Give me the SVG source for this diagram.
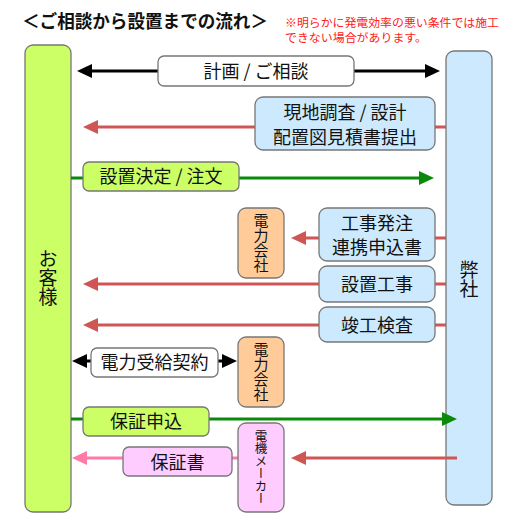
<svg xmlns="http://www.w3.org/2000/svg" width="509" height="528" viewBox="0 0 509 528">
<style>
text{font-family:"Noto Sans CJK JP","Noto Sans CJK SC",sans-serif;fill:#111}
.lbl{font-size:18px;text-anchor:middle}
.vt{writing-mode:vertical-rl;text-anchor:middle}
.note{font-size:11.5px;fill:#ff2020}
.box{stroke:#777;stroke-width:1.3}
.w{fill:#fff}.g{fill:#ccff66}.b{fill:#cce9fd}.o{fill:#ffcc99}.p{fill:#ffccff}
.red{stroke:#d05555;stroke-width:3;fill:none}
.grn{stroke:#0a8a0a;stroke-width:3;fill:none}
.blk{stroke:#000;stroke-width:3;fill:none}
.pnk{stroke:#ff7aa8;stroke-width:3;fill:none}
</style>
<defs>
<marker id="mr" markerUnits="userSpaceOnUse" markerWidth="16" markerHeight="16" refX="5" refY="7" orient="auto"><path d="M0,0L15,7L0,14z" fill="#d05555"/></marker>
<marker id="mg" markerUnits="userSpaceOnUse" markerWidth="16" markerHeight="16" refX="5" refY="7" orient="auto"><path d="M0,0L15,7L0,14z" fill="#0a8a0a"/></marker>
<marker id="mk" markerUnits="userSpaceOnUse" markerWidth="16" markerHeight="16" refX="5" refY="7" orient="auto-start-reverse"><path d="M0,0L15,7L0,14z" fill="#000"/></marker>
<marker id="mp" markerUnits="userSpaceOnUse" markerWidth="16" markerHeight="16" refX="5" refY="7" orient="auto"><path d="M0,0L15,7L0,14z" fill="#ff7aa8"/></marker>
</defs>
<rect width="509" height="528" fill="#fff"/>
<text x="22" y="28" textLength="246" lengthAdjust="spacingAndGlyphs" style="font-size:18px;font-weight:bold">＜ご相談から設置までの流れ＞</text>
<text class="note" x="285" y="27" textLength="214" lengthAdjust="spacingAndGlyphs">※明らかに発電効率の悪い条件では施工</text>
<text class="note" x="285" y="42" textLength="142" lengthAdjust="spacingAndGlyphs">できない場合があります。</text>
<g id="customer"><rect class="box g" x="25" y="45" width="46" height="467" rx="8"/><text class="vt" x="48" y="278" style="font-size:19px">お客様</text></g>
<g id="company"><rect class="box b" x="446" y="51" width="46" height="454" rx="8"/><text class="vt" x="469" y="279" style="font-size:19px">弊社</text></g>
<g id="connectors">
<line class="blk" x1="87" y1="71" x2="430" y2="71" marker-start="url(#mk)" marker-end="url(#mk)"/>
<line class="red" x1="446" y1="127" x2="93" y2="127" marker-end="url(#mr)"/>
<line class="grn" x1="71" y1="178" x2="424" y2="178" marker-end="url(#mg)"/>
<line class="red" x1="446" y1="238" x2="301" y2="238" marker-end="url(#mr)"/>
<line class="red" x1="446" y1="284" x2="93" y2="284" marker-end="url(#mr)"/>
<line class="red" x1="446" y1="325" x2="93" y2="325" marker-end="url(#mr)"/>
<line class="blk" x1="82" y1="361" x2="227" y2="361" marker-start="url(#mk)" marker-end="url(#mk)"/>
<line class="grn" x1="71" y1="419" x2="447" y2="419" marker-end="url(#mg)"/>
<line class="pnk" x1="238" y1="458" x2="82" y2="458" marker-end="url(#mp)"/>
<line class="red" x1="457" y1="458" x2="301" y2="458" marker-end="url(#mr)"/>
</g>
<g id="n-consult"><rect class="box w" x="158" y="56" width="196" height="30" rx="6"/><text class="lbl" x="256" y="77.5">計画 / ご相談</text></g>
<g id="n-survey"><rect class="box b" x="255" y="97" width="180" height="53" rx="8"/><text class="lbl" x="345" y="118.5">現地調査 / 設計</text><text class="lbl" x="345" y="143.5">配置図見積書提出</text></g>
<g id="n-order"><rect class="box g" x="83" y="162" width="156" height="29" rx="6"/><text class="lbl" x="161" y="183">設置決定 / 注文</text></g>
<g id="n-apply"><rect class="box b" x="319" y="208" width="116" height="53" rx="8"/><text class="lbl" x="377" y="229.5">工事発注</text><text class="lbl" x="377" y="253.5">連携申込書</text></g>
<g id="n-power1"><rect class="box o" x="238" y="208" width="46" height="70" rx="8"/><text class="vt" x="261" y="243" style="font-size:15px">電力会社</text></g>
<g id="n-install"><rect class="box b" x="319" y="266" width="116" height="36" rx="8"/><text class="lbl" x="377" y="290.5">設置工事</text></g>
<g id="n-inspect"><rect class="box b" x="319" y="307" width="116" height="35" rx="8"/><text class="lbl" x="377" y="331.5">竣工検査</text></g>
<g id="n-contract"><rect class="box w" x="91" y="348" width="127" height="29" rx="6"/><text class="lbl" x="154.5" y="368.5">電力受給契約</text></g>
<g id="n-power2"><rect class="box o" x="238" y="337" width="46" height="70" rx="8"/><text class="vt" x="261" y="372" style="font-size:15px">電力会社</text></g>
<g id="n-warranty-apply"><rect class="box g" x="83" y="407" width="126" height="29" rx="6"/><text class="lbl" x="146" y="427.5">保証申込</text></g>
<g id="n-warranty"><rect class="box p" x="123" y="447" width="109" height="29" rx="6"/><text class="lbl" x="177.5" y="468.5">保証書</text></g>
<g id="n-maker"><rect class="box p" x="238" y="423" width="46" height="89" rx="8"/><text class="vt" x="261" y="467" style="font-size:12.5px">電機メーカー</text></g>
</svg>
